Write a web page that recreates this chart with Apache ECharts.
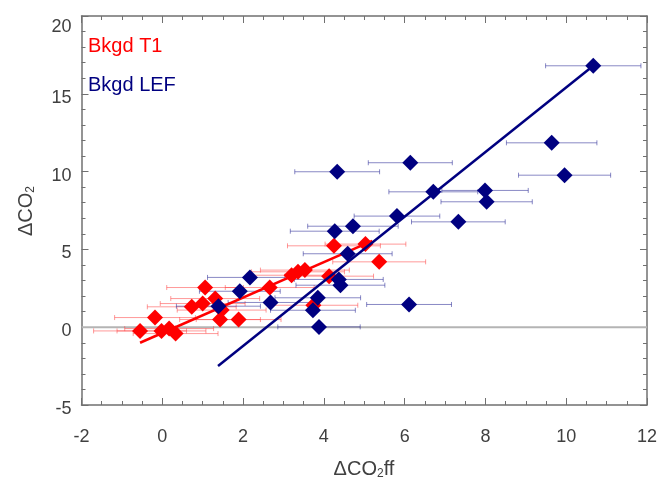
<!DOCTYPE html>
<html>
<head>
<meta charset="utf-8">
<script src="https://cdn.jsdelivr.net/npm/echarts@6/dist/echarts.min.js"></script>
<style>
html,body{margin:0;padding:0;background:#fff;}
#c{width:660px;height:479px;}
</style>
</head>
<body>
<div id="c"></div>
<script>
// ---- data ----
var xTicks = [-2, 0, 2, 4, 6, 8, 10, 12];
var yTicks = [-5, 0, 5, 10, 15, 20];

// Bkgd T1 (red): x, y, horizontal error
var t1X = [-0.55, -0.18, -0.02, 0.17, 0.33, 0.73, 1.00, 1.06, 1.31, 1.47, 1.43, 1.89, 2.66, 3.20, 3.36, 3.53, 4.13, 4.25, 5.03, 5.37, 3.74];
var t1Y = [-0.24, 0.62, -0.24, -0.09, -0.41, 1.31, 1.52, 2.55, 1.84, 1.10, 0.49, 0.49, 2.55, 3.34, 3.56, 3.67, 3.28, 5.23, 5.34, 4.20, 1.41];
var t1Err = [1.15, 1.00, 1.10, 1.10, 1.05, 1.10, 1.05, 0.95, 1.10, 1.10, 1.00, 1.05, 1.10, 1.10, 1.15, 1.10, 1.10, 1.15, 1.00, 1.15, 1.10];
var t1FitX = [-0.55, 5.20];
var t1FitY = [-1.00, 5.55];

// Bkgd LEF (navy)
var lefX = [10.67, 9.64, 6.14, 4.33, 9.96, 6.71, 7.99, 8.03, 5.81, 7.33, 4.72, 4.27, 4.59, 2.17, 1.92, 1.39, 2.68, 4.37, 4.41, 3.85, 3.73, 3.88, 6.11];
var lefY = [16.80, 11.85, 10.57, 9.99, 9.77, 8.70, 8.79, 8.06, 7.14, 6.77, 6.49, 6.17, 4.72, 3.20, 2.31, 1.35, 1.59, 3.07, 2.70, 1.89, 1.09, 0.02, 1.46];
var lefErr = [1.18, 1.12, 1.04, 1.05, 1.14, 1.10, 1.07, 1.13, 1.06, 1.16, 1.12, 1.10, 1.10, 1.05, 1.00, 1.04, 1.05, 1.10, 1.10, 1.06, 1.05, 1.02, 1.05];
var lefFitX = [1.38, 10.67];
var lefFitY = [-2.50, 16.80];

var zeroX = [-2, 12];
var zeroY = [0, 0];

// ---- build ----
function zip(a, b) { return a.map(function (v, i) { return [v, b[i]]; }); }
function zip3(a, b, c) { return a.map(function (v, i) { return [v, b[i], c[i]]; }); }

var FONT = "'Liberation Sans', Helvetica, Arial, sans-serif";
var RED = '#ff0000', NAVY = '#000080';

function errRender(color) {
  return function (params, api) {
    var x = api.value(0), y = api.value(1), e = api.value(2);
    var p1 = api.coord([x - e, y]);
    var p2 = api.coord([x + e, y]);
    var h = 2.5;
    var st = { stroke: color, lineWidth: 1 };
    return {
      type: 'group',
      children: [
        { type: 'line', shape: { x1: p1[0], y1: p1[1], x2: p2[0], y2: p2[1] }, style: st },
        { type: 'line', shape: { x1: p1[0], y1: p1[1] - h, x2: p1[0], y2: p1[1] + h }, style: st },
        { type: 'line', shape: { x1: p2[0], y1: p2[1] - h, x2: p2[0], y2: p2[1] + h }, style: st }
      ]
    };
  };
}

var axisLineStyle = { color: '#707070', width: 1.5 };
function xAx(pos, labels) {
  return {
    type: 'value', position: pos, min: xTicks[0], max: xTicks[xTicks.length - 1], interval: 2,
    axisLine: { show: true, onZero: false, lineStyle: axisLineStyle },
    axisTick: { show: true, inside: true, length: 7, lineStyle: { color: '#707070', width: 1 } },
    minorTick: { show: true, splitNumber: 4, length: 4, lineStyle: { color: '#707070', width: 1 } },
    splitLine: { show: false },
    axisLabel: { show: labels, fontSize: 18, color: '#404040', fontFamily: FONT, margin: 23 }
  };
}
function yAx(pos, labels) {
  var top = yTicks[yTicks.length - 1];
  return {
    type: 'value', position: pos, min: yTicks[0], max: top, interval: 5,
    axisLine: { show: true, onZero: false, lineStyle: axisLineStyle },
    axisTick: { show: true, inside: true, length: 7, lineStyle: { color: '#707070', width: 1 } },
    minorTick: { show: true, splitNumber: 5, length: 4, lineStyle: { color: '#707070', width: 1 } },
    splitLine: { show: false },
    axisLabel: {
      show: labels, margin: 10,
      formatter: function (v) { return v === top ? '{t|' + v + '}' : '{n|' + v + '}'; },
      rich: {
        n: { fontSize: 18, color: '#404040', fontFamily: FONT, padding: [8, 0, 0, 0] },
        t: { fontSize: 18, color: '#404040', fontFamily: FONT, padding: [22, 0, 0, 0] }
      }
    }
  };
}

var chart = echarts.init(document.getElementById('c'), null, { renderer: 'canvas' });
chart.setOption({
  animation: false,
  backgroundColor: '#ffffff',
  grid: { left: 81.5, right: 12.5, top: 16, bottom: 74, containLabel: false },
  xAxis: [xAx('bottom', true), xAx('top', false)],
  yAxis: [yAx('left', true), yAx('right', false)],
  graphic: [
    { type: 'text', left: 88, top: 36, z: 100, style: { text: 'Bkgd T1', fill: RED, font: '20px ' + FONT } },
    { type: 'text', left: 88, top: 75, z: 100, style: { text: 'Bkgd LEF', fill: NAVY, font: '20px ' + FONT } },
    { type: 'text', x: 364, y: 469, z: 100,
      style: { text: '{a|ΔCO}{s|2}{a|ff}', align: 'center', verticalAlign: 'middle',
        rich: { a: { fontSize: 20, fontFamily: FONT, fill: '#404040' },
                s: { fontSize: 12, fontFamily: FONT, fill: '#404040', padding: [10, 0, 0, 0] } } } },
    { type: 'text', x: 26, y: 211, rotation: Math.PI / 2, z: 100,
      style: { text: '{a|ΔCO}{s|2}', align: 'center', verticalAlign: 'middle',
        rich: { a: { fontSize: 20, fontFamily: FONT, fill: '#404040' },
                s: { fontSize: 12, fontFamily: FONT, fill: '#404040', padding: [10, 0, 0, 0] } } } }
  ],
  series: [
    { type: 'line', data: zip(zeroX, zeroY), symbol: 'none', silent: true, z: 1,
      lineStyle: { color: '#b4b4b4', width: 2 } },
    { type: 'custom', data: zip3(t1X, t1Y, t1Err), renderItem: errRender('rgba(255,70,70,0.55)'), z: 2, silent: true },
    { type: 'custom', data: zip3(lefX, lefY, lefErr), renderItem: errRender('rgba(40,40,150,0.55)'), z: 2, silent: true },
    { type: 'scatter', data: zip(t1X, t1Y), symbol: 'diamond', symbolSize: 16, z: 3,
      itemStyle: { color: RED, opacity: 1 } },
    { type: 'line', data: zip(t1FitX, t1FitY), symbol: 'none', z: 4,
      lineStyle: { color: RED, width: 2.5 } },
    { type: 'scatter', data: zip(lefX, lefY), symbol: 'diamond', symbolSize: 16, z: 5,
      itemStyle: { color: NAVY, opacity: 1 } },
    { type: 'line', data: zip(lefFitX, lefFitY), symbol: 'none', z: 6,
      lineStyle: { color: NAVY, width: 2.5 } }
  ]
});
</script>
</body>
</html>
